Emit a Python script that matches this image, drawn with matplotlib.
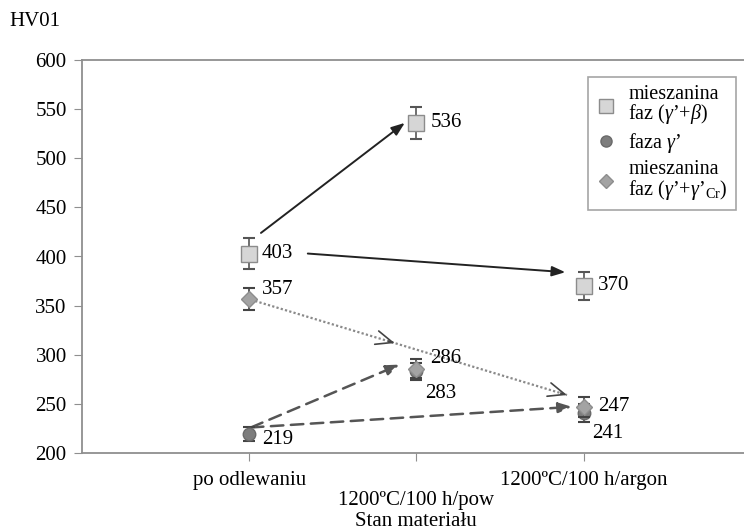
import numpy as np
import matplotlib
matplotlib.use("Agg")
import matplotlib.pyplot as plt
from matplotlib.lines import Line2D

plt.rcParams["font.family"] = ["Liberation Serif", "DejaVu Serif"]
plt.rcParams["mathtext.fontset"] = "custom"
plt.rcParams["mathtext.rm"] = "Liberation Serif"
plt.rcParams["mathtext.it"] = "Liberation Serif:italic"

# dane
stany = ["po odlewaniu", "1200ºC/100 h/pow", "1200ºC/100 h/argon"]
x_pos = [1, 2, 3]
hv_gamma_beta = [403, 536, 370]      # mieszanina faz (γ'+β)
err_gamma_beta = [16, 16, 14]
hv_gamma = [219, 283, 241]           # faza γ'
err_gamma = [7, 9, 9]
hv_gamma_cr = [357, 286, 247]        # mieszanina faz (γ'+γ'Cr)
err_gamma_cr = [11, 10, 10]

# offsety etykiet wartości (pt)
off_gb = [(9, 0), (10, 0), (10, 0)]
off_g = [(9, -4), (6, -16), (6, -15)]
off_cr = [(9, 7), (10, 7), (10, 0)]

fig = plt.figure(figsize=(7.44, 5.32), dpi=100)
ax = fig.add_axes([82 / 744, 79 / 532, 669 / 744, 393 / 532])

spine_c = "#8f8f8f"
fs = 15
ax.set_xlim(0, 4)
ax.set_ylim(200, 600)
ax.set_yticks(np.arange(200, 601, 50))
ax.set_xticks(x_pos)
ax.set_xticklabels(stany)
ax.tick_params(axis="y", direction="out", length=6, color=spine_c, labelsize=fs, pad=5)
ax.tick_params(axis="x", direction="out", length=6, color=spine_c, labelsize=fs, pad=7)
ax.xaxis.get_major_ticks()[1].set_pad(21)
for s in ["left", "bottom", "top"]:
    ax.spines[s].set_color(spine_c)
    ax.spines[s].set_linewidth(1.3)
ax.spines["right"].set_visible(False)

# strzałki
ax.annotate("", xy=(1.93, 536), xytext=(1.07, 424),
            arrowprops=dict(arrowstyle="-|>,head_length=0.8,head_width=0.3",
                            color="#222222", lw=1.4, shrinkA=0, shrinkB=0))
ax.annotate("", xy=(2.89, 384), xytext=(1.35, 403),
            arrowprops=dict(arrowstyle="-|>,head_length=0.8,head_width=0.3",
                            color="#222222", lw=1.4, shrinkA=0, shrinkB=0))
ax.annotate("", xy=(1.90, 290), xytext=(1.01, 226),
            arrowprops=dict(arrowstyle="-|>,head_length=0.8,head_width=0.3",
                            color="#555555", lw=1.8, ls=(0, (5, 3)), shrinkA=0, shrinkB=0))
ax.annotate("", xy=(2.93, 247), xytext=(1.01, 226),
            arrowprops=dict(arrowstyle="-|>,head_length=0.8,head_width=0.3",
                            color="#555555", lw=1.8, ls=(0, (5, 3)), shrinkA=0, shrinkB=0))
# linia kropkowana z otwartymi grotami
x0, y0, x1, y1 = 1.01, 356, 2.90, 259
ax.plot([x0, x1], [y0, y1], color="#8a8a8a", lw=1.6, ls=(0, (1, 1)), zorder=2)
for t in [0.455, 1.0]:
    xt, yt = x0 + t * (x1 - x0), y0 + t * (y1 - y0)
    ax.annotate("", xy=(xt, yt), xytext=(xt - 0.02 * (x1 - x0), yt - 0.02 * (y1 - y0)),
                arrowprops=dict(arrowstyle="->,head_length=1.2,head_width=0.5",
                                color="#444444", lw=1.2, shrinkA=0, shrinkB=0))

# punkty z błędami
ax.errorbar(x_pos, hv_gamma, yerr=err_gamma, fmt="o", ms=9, mfc="#7d7d7d", mec="#6a6a6a",
            ecolor="#444444", elinewidth=1.2, capsize=4, capthick=1.5, zorder=4)
ax.errorbar(x_pos, hv_gamma_cr, yerr=err_gamma_cr, fmt="D", ms=8, mfc="#a3a3a3", mec="#8d8d8d",
            ecolor="#444444", elinewidth=1.2, capsize=4, capthick=1.5, zorder=5)
ax.errorbar(x_pos, hv_gamma_beta, yerr=err_gamma_beta, fmt="s", ms=11, mfc="#d6d6d6", mec="#8c8c8c",
            ecolor="#555555", elinewidth=1.2, capsize=4, capthick=1.5, zorder=5)

for vals, offs in [(hv_gamma_beta, off_gb), (hv_gamma, off_g), (hv_gamma_cr, off_cr)]:
    for x, v, o in zip(x_pos, vals, offs):
        ax.annotate(str(v), (x, v), xytext=o, textcoords="offset points",
                    ha="left", va="center", fontsize=fs)

handles = [
    Line2D([], [], ls="none", marker="s", ms=10, mfc="#d6d6d6", mec="#8c8c8c"),
    Line2D([], [], ls="none", marker="o", ms=8, mfc="#7d7d7d", mec="#6a6a6a"),
    Line2D([], [], ls="none", marker="D", ms=7, mfc="#a3a3a3", mec="#8d8d8d"),
]
labels = ["mieszanina\nfaz ($\\gamma$’+$\\beta$)", "faza $\\gamma$’",
          "mieszanina\nfaz ($\\gamma$’+$\\gamma$’$_{\\rm Cr}$)"]
leg = fig.legend(handles, labels, loc="upper left", bbox_to_anchor=(578 / 744, 1 - 67 / 532),
                 fontsize=14.5, frameon=True, fancybox=False, handlelength=1.0,
                 handletextpad=0.6, labelspacing=0.25, borderpad=0.4)
leg.get_frame().set_edgecolor("#8f8f8f")
leg.get_frame().set_linewidth(1.2)
for t in leg.get_texts():
    t.set_linespacing(0.9)

fig.text(35 / 744, 1 - 22 / 532, "HV01", fontsize=fs, ha="center", va="center")
fig.text(416 / 744, 1 - 526 / 532, "Stan materiału", fontsize=fs, ha="center", va="baseline")

fig.savefig("out.png", dpi=100)
